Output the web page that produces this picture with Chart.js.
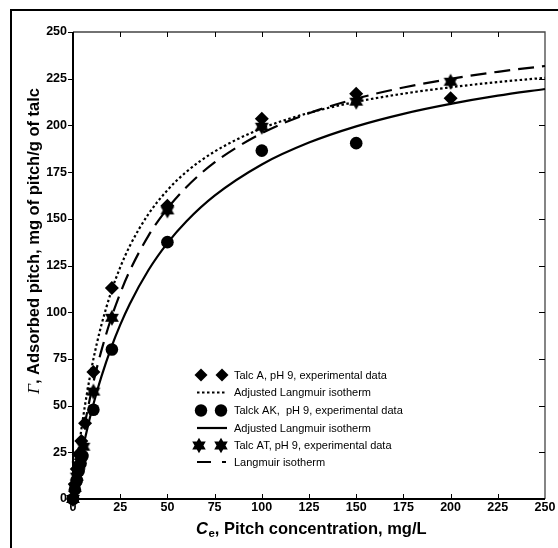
<!DOCTYPE html>
<html><head><meta charset="utf-8">
<script src="https://cdn.jsdelivr.net/npm/chart.js@4.4.1/dist/chart.umd.min.js"></script>
<style>html,body{margin:0;padding:0;background:#fff}#wrap{width:558px;height:548px;position:relative}</style>
</head><body><div id="wrap"><canvas id="c" width="558" height="548"></canvas></div>
<script>
// ---- data ----
const xTickValues = [0, 25, 50, 75, 100, 125, 150, 175, 200, 225, 250];
const yTickValues = [0, 25, 50, 75, 100, 125, 150, 175, 200, 225, 250];

const talcA_C = [0, 1, 2, 3, 4.4, 6.4, 10.8, 20.6, 50, 100, 150, 200];
const talcA_G = [0, 8, 16, 24, 31, 40.5, 68, 113, 157, 203.5, 217, 214.5];

const talcAK_C = [0, 1, 2, 3, 4, 5, 10.8, 20.6, 50, 100, 150];
const talcAK_G = [0, 5, 10, 15, 19, 23, 47.8, 80, 137.5, 186.5, 190.5];

const talcAT_C = [0, 1, 2, 3, 4, 5.5, 10.8, 20.6, 50, 100, 150, 200];
const talcAT_G = [0, 6, 12, 18, 23, 28, 57.5, 97, 154.5, 199.3, 212.7, 223.4];

const curveC   = [0, 1, 2, 3, 4, 5, 7.5, 10, 12.5, 15, 20, 25, 30, 40, 50, 60, 75, 100, 125, 150, 175, 200, 225, 250];
const curveA   = [0, 9.5, 18.4, 26.6, 34.2, 41.3, 57.2, 70.9, 82.7, 93, 110.2, 124, 135.3, 152.6, 165.3, 175.1, 186, 198.4, 206.7, 212.6, 217, 220.4, 223.2, 225.5];
const curveAK  = [0, 5.7, 11.2, 16.4, 21.4, 26.2, 37.4, 47.6, 56.9, 65.4, 80.4, 93.2, 104.3, 122.6, 137, 148.6, 162.4, 179.1, 190.8, 199.5, 206.2, 211.5, 215.9, 219.5];
const curveAT  = [0, 7.3, 14.3, 20.9, 27.1, 33, 46.6, 58.7, 69.6, 79.3, 96.1, 110.1, 122, 141, 155.5, 166.9, 180.2, 195.8, 206.5, 214.3, 220.3, 224.9, 228.7, 231.8];

const seriesLabels = [
  'Talc A, pH 9, experimental data',
  'Adjusted Langmuir isotherm',
  'Talck AK,  pH 9, experimental data',
  'Adjusted Langmuir isotherm',
  'Talc AT, pH 9, experimental data',
  'Langmuir isotherm'
];
const xTitleMain = 'C';
const xTitleSub = 'e';
const xTitleRest = ', Pitch concentration, mg/L';
const yTitleSym = 'Γ';
const yTitleRest = ', Adsorbed pitch, mg of pitch/g of talc';

// ---- helpers ----
const pts = (xs, ys) => xs.map((x, i) => ({x: x, y: ys[i]}));

function drawHexagram(ctx, cx, cy, R) {
  ctx.beginPath();
  for (let t = 0; t < 2; t++) {
    const off = t === 0 ? -Math.PI / 2 : Math.PI / 2;
    for (let k = 0; k < 3; k++) {
      const a = off + k * 2 * Math.PI / 3;
      const px = cx + R * Math.cos(a), py = cy + R * Math.sin(a);
      if (k === 0) ctx.moveTo(px, py); else ctx.lineTo(px, py);
    }
    ctx.closePath();
  }
  ctx.fill();
}
const starImg = document.createElement('canvas');
starImg.width = 18; starImg.height = 18;
(function () { const g = starImg.getContext('2d'); g.fillStyle = '#000'; drawHexagram(g, 9, 9, 8); })();

const SANS = '"Liberation Sans", Arial, sans-serif';
const SERIF = '"Liberation Serif", "Times New Roman", serif';

const decor = {
  id: 'decor',
  beforeDraw(chart) {
    const ctx = chart.ctx;
    ctx.save(); ctx.fillStyle = '#fff'; ctx.fillRect(0, 0, chart.width, chart.height); ctx.restore();
  },
  beforeDatasetsDraw(chart) {
    const ctx = chart.ctx, a = chart.chartArea, xs = chart.scales.x, ys = chart.scales.y;
    ctx.save();
    ctx.lineWidth = 1.3; ctx.strokeStyle = '#444';
    ctx.beginPath(); ctx.moveTo(a.left, a.top); ctx.lineTo(a.right, a.top); ctx.lineTo(a.right, a.bottom); ctx.stroke();
    ctx.strokeStyle = '#000'; ctx.lineWidth = 1;
    xTickValues.forEach(v => {
      if (v === 0 || v === 250) return;
      const px = Math.round(xs.getPixelForValue(v)) + 0.5;
      ctx.beginPath(); ctx.moveTo(px, a.bottom); ctx.lineTo(px, a.bottom - 5); ctx.stroke();
      ctx.beginPath(); ctx.moveTo(px, a.top); ctx.lineTo(px, a.top + 5); ctx.stroke();
    });
    yTickValues.forEach(v => {
      const py = Math.round(ys.getPixelForValue(v)) + 0.5;
      ctx.beginPath(); ctx.moveTo(a.left - 5, py); ctx.lineTo(a.left, py); ctx.stroke();
      if (v !== 0 && v !== 250) { ctx.beginPath(); ctx.moveTo(a.right, py); ctx.lineTo(a.right - 6, py); ctx.stroke(); }
    });
    ctx.lineWidth = 2; ctx.strokeStyle = '#000';
    ctx.beginPath(); ctx.moveTo(a.left, a.top); ctx.lineTo(a.left, a.bottom); ctx.lineTo(a.right, a.bottom); ctx.stroke();
    ctx.restore();
  },
  afterDraw(chart) {
    const ctx = chart.ctx;
    ctx.save();
    ctx.strokeStyle = '#000'; ctx.lineWidth = 2;
    ctx.beginPath(); ctx.moveTo(11, 570); ctx.lineTo(11, 10); ctx.lineTo(570, 10); ctx.stroke();
    ctx.fillStyle = '#000';
    ctx.textBaseline = 'alphabetic';
    const fs = 16.5;
    const fMain = 'italic bold ' + fs + 'px ' + SANS, fSub = 'bold 11.5px ' + SANS, fRest = 'bold ' + fs + 'px ' + SANS;
    ctx.font = fMain; const w1 = ctx.measureText(xTitleMain).width;
    ctx.font = fSub; const w2 = ctx.measureText(xTitleSub).width;
    ctx.font = fRest; const w3 = ctx.measureText(xTitleRest).width;
    let x0 = 311 - (w1 + w2 + w3) / 2; const by = 534;
    ctx.font = fMain; ctx.fillText(xTitleMain, x0, by); x0 += w1 + 0.5;
    ctx.font = fSub; ctx.fillText(xTitleSub, x0, by + 3); x0 += w2;
    ctx.font = fRest; ctx.fillText(xTitleRest, x0, by);
    ctx.save();
    ctx.translate(39, 241); ctx.rotate(-Math.PI / 2);
    const fSym = 'italic ' + (fs + 1) + 'px ' + SERIF;
    ctx.font = fSym; const s1 = ctx.measureText(yTitleSym).width;
    ctx.font = fRest; const s2 = ctx.measureText(yTitleRest).width;
    let t0 = -(s1 + s2) / 2;
    ctx.font = fSym; ctx.fillText(yTitleSym, t0, 0); t0 += s1;
    ctx.font = fRest; ctx.fillText(yTitleRest, t0, 0);
    ctx.restore();
    // legend
    const rows = [375, 392.5, 410.5, 428, 445.5, 462];
    const sx0 = 197, sx1 = 227, tx = 234;
    ctx.font = '11px ' + SANS; ctx.textBaseline = 'middle';
    rows.forEach((ry, i) => {
      ctx.save();
      ctx.fillStyle = '#000'; ctx.strokeStyle = '#000';
      if (i === 0) {
        [201, 222].forEach(cx => { ctx.beginPath(); ctx.moveTo(cx - 6.5, ry); ctx.lineTo(cx, ry - 6.5); ctx.lineTo(cx + 6.5, ry); ctx.lineTo(cx, ry + 6.5); ctx.closePath(); ctx.fill(); });
      } else if (i === 2) {
        [201, 221].forEach(cx => { ctx.beginPath(); ctx.arc(cx, ry, 6.2, 0, 2 * Math.PI); ctx.fill(); });
      } else if (i === 4) {
        [199, 221].forEach(cx => drawHexagram(ctx, cx, ry, 7.8));
      } else {
        ctx.lineWidth = 2.2;
        ctx.setLineDash(i === 1 ? [2.5, 2.5] : (i === 5 ? [14, 11, 4, 40] : []));
        ctx.beginPath(); ctx.moveTo(sx0, ry); ctx.lineTo(sx1, ry); ctx.stroke();
      }
      ctx.restore();
      ctx.fillText(seriesLabels[i], tx, ry + 0.5);
    });
    ctx.restore();
  }
};

const lineBase = {showLine: true, pointRadius: 0, borderColor: '#000', borderWidth: 2.2, fill: false, tension: 0, cubicInterpolationMode: 'monotone', clip: false};
const pointBase = {showLine: false, backgroundColor: '#000', borderColor: '#000', borderWidth: 0, clip: false};

new Chart(document.getElementById('c'), {
  type: 'scatter',
  data: {
    datasets: [
      Object.assign({label: seriesLabels[0], data: pts(talcA_C, talcA_G), pointStyle: 'rectRot', pointRadius: 7, order: 1}, pointBase),
      Object.assign({label: seriesLabels[1], data: pts(curveC, curveA), borderDash: [2.5, 2.5], order: 2}, lineBase),
      Object.assign({label: seriesLabels[2], data: pts(talcAK_C, talcAK_G), pointStyle: 'circle', pointRadius: 6.3, order: 1}, pointBase),
      Object.assign({label: seriesLabels[3], data: pts(curveC, curveAK), order: 2}, lineBase),
      Object.assign({label: seriesLabels[4], data: pts(talcAT_C, talcAT_G), pointStyle: starImg, pointRadius: 8, order: 1}, pointBase),
      Object.assign({label: seriesLabels[5], data: pts(curveC, curveAT), borderDash: [16, 8], order: 2}, lineBase)
    ]
  },
  options: {
    responsive: false, animation: false, devicePixelRatio: 1,
    layout: {padding: {left: 0, right: 13, top: 32, bottom: 0}},
    plugins: {legend: {display: false}, tooltip: {enabled: false}},
    scales: {
      x: {
        type: 'linear', min: 0, max: 250,
        afterBuildTicks: s => { s.ticks = xTickValues.map(v => ({value: v})); },
        afterFit: s => { s.height = 49; },
        grid: {display: false, drawTicks: false}, border: {display: false},
        ticks: {autoSkip: false, maxRotation: 0, padding: 1, color: '#000', font: {family: SANS, weight: 'bold', size: 12.5}}
      },
      y: {
        type: 'linear', min: 0, max: 250,
        afterBuildTicks: s => { s.ticks = yTickValues.map(v => ({value: v})); },
        afterFit: s => { s.width = 73; },
        grid: {display: false, drawTicks: false}, border: {display: false},
        ticks: {autoSkip: false, padding: 6, color: '#000', font: {family: SANS, weight: 'bold', size: 12.5}}
      }
    }
  },
  plugins: [decor]
});
</script>
</body></html>
